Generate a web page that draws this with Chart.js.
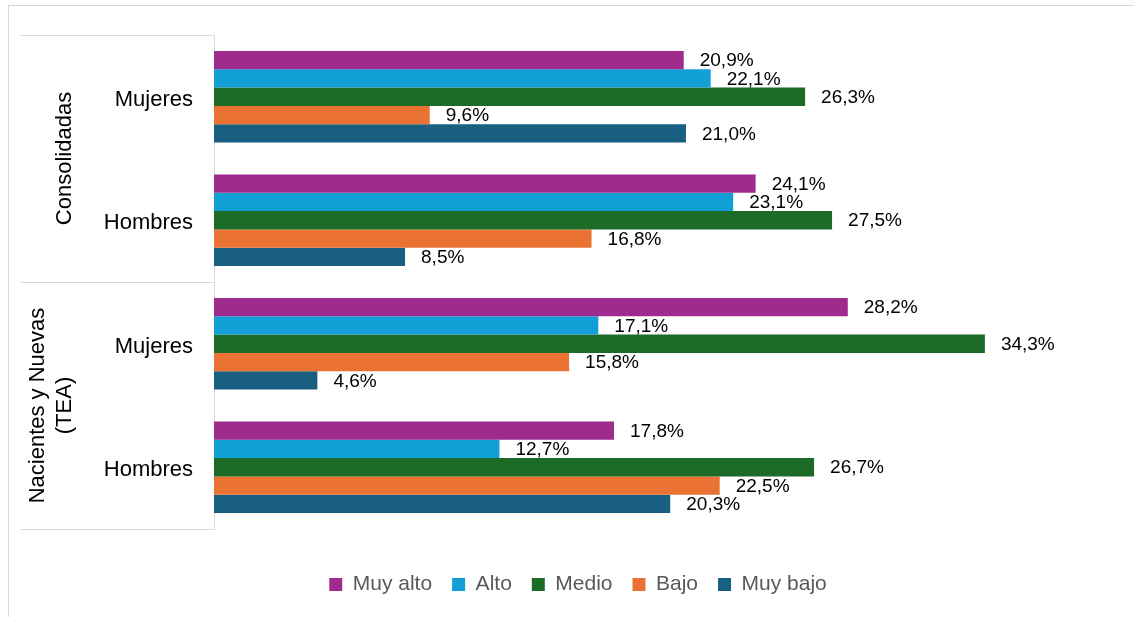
<!DOCTYPE html>
<html>
<head>
<meta charset="utf-8">
<script src="https://cdn.jsdelivr.net/npm/chart.js@4/dist/chart.umd.min.js"></script>
<style>
  body { margin: 0; background: #fff; }
  #wrap { position: relative; width: 1134px; height: 617px; }
  #frame { position: absolute; left: 8px; top: 5px; right: 0; bottom: 0; border-left: 1px solid #d9d9d9; border-top: 1px solid #d9d9d9; pointer-events: none; }
</style>
</head>
<body>
<div id="wrap">
  <canvas id="myChart" width="1134" height="617"></canvas>
  <div id="frame"></div>
</div>
<script>
'use strict';
//data
let categories = ['Mujeres', 'Hombres', 'Mujeres', 'Hombres'];
let groupNames = [['Consolidadas'], ['Nacientes y Nuevas', '(TEA)']];
let groupSizes = [2, 2];
let seriesNames = ['Muy alto', 'Alto', 'Medio', 'Bajo', 'Muy bajo'];
let muyAlto = [20.9, 24.1, 28.2, 17.8];
let alto = [22.1, 23.1, 17.1, 12.7];
let medio = [26.3, 27.5, 34.3, 26.7];
let bajo = [9.6, 16.8, 15.8, 22.5];
let muyBajo = [21.0, 8.5, 4.6, 20.3];
let colors = ['#9f2b8f', '#129fd6', '#1c6b27', '#ea7334', '#185f82'];

const FONT = '"Liberation Sans", Arial, sans-serif';

//value labels next to each bar
const valueLabels = {
  id: 'valueLabels',
  afterDatasetsDraw(chart) {
    const ctx = chart.ctx;
    ctx.save();
    ctx.font = '19px ' + FONT;
    ctx.fillStyle = '#000';
    ctx.textAlign = 'left';
    ctx.textBaseline = 'middle';
    chart.data.datasets.forEach((ds, i) => {
      chart.getDatasetMeta(i).data.forEach((bar, j) => {
        let txt = ds.data[j].toFixed(1).replace('.', ',') + '%';
        ctx.fillText(txt, bar.x + 16, bar.y + 1);
      });
    });
    ctx.restore();
  }
};

//second level of the category axis (group names + divider lines)
const groupAxis = {
  id: 'groupAxis',
  afterDraw(chart) {
    const ctx = chart.ctx;
    const area = chart.chartArea;
    const step = (area.bottom - area.top) / categories.length;
    ctx.save();
    ctx.strokeStyle = '#d9d9d9';
    ctx.lineWidth = 1;
    let start = 0;
    let edges = [area.top];
    groupSizes.forEach(n => { start += n; edges.push(area.top + start * step); });
    edges.forEach(yy => {
      ctx.beginPath();
      ctx.moveTo(21, Math.round(yy) + 0.5);
      ctx.lineTo(area.left, Math.round(yy) + 0.5);
      ctx.stroke();
    });
    ctx.font = '22px ' + FONT;
    ctx.fillStyle = '#000';
    ctx.textAlign = 'center';
    ctx.textBaseline = 'middle';
    groupNames.forEach((lines, g) => {
      let yc = (edges[g] + edges[g + 1]) / 2;
      lines.forEach((line, i) => {
        let xx = 65 - (lines.length - 1 - i) * 27;
        ctx.save();
        ctx.translate(xx, yc);
        ctx.rotate(-Math.PI / 2);
        ctx.fillText(line, 0, 0);
        ctx.restore();
      });
    });
    ctx.restore();
  }
};

let seriesData = [muyAlto, alto, medio, bajo, muyBajo];
let datasets = seriesNames.map((name, i) => ({
  label: name,
  data: seriesData[i],
  backgroundColor: colors[i],
  borderWidth: 0,
  categoryPercentage: 0.74,
  barPercentage: 1.0
}));

const ctx = document.getElementById('myChart');
new Chart(ctx, {
  type: 'bar',
  data: { labels: categories, datasets: datasets },
  plugins: [valueLabels, groupAxis],
  options: {
    indexAxis: 'y',
    responsive: false,
    animation: false,
    layout: { padding: { top: 35, left: 43, right: 21, bottom: 12 } },
    scales: {
      x: {
        min: 0, max: 40,
        afterFit(scale) { scale.height = 25; },
        grid: { display: false, drawTicks: false },
        border: { display: false },
        ticks: { display: false }
      },
      y: {
        afterFit(scale) { scale.width = 171; },
        grid: { display: false, drawTicks: false },
        border: { display: true, color: '#d9d9d9', width: 1 },
        ticks: { padding: 21, labelOffset: 3, color: '#000', font: { size: 22, family: FONT } }
      }
    },
    plugins: {
      tooltip: { enabled: false },
      legend: {
        position: 'bottom',
        labels: {
          boxWidth: 13,
          boxHeight: 13,
          padding: 20,
          color: '#595959',
          font: { size: 21, family: FONT }
        }
      }
    }
  }
});
</script>
</body>
</html>
